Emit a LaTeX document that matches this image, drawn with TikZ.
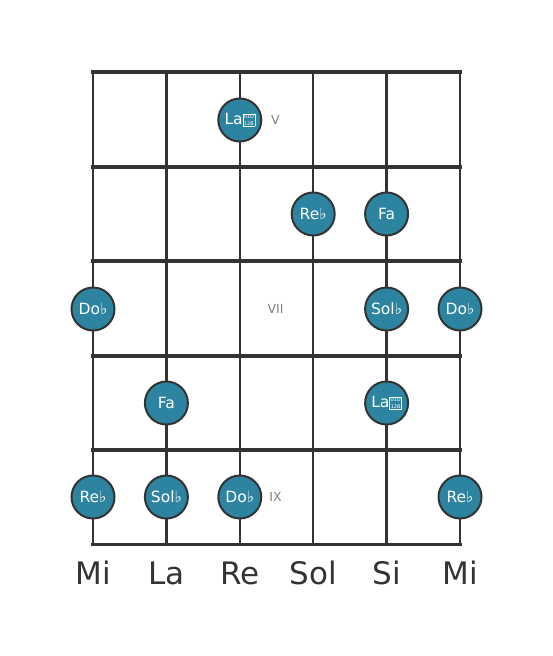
\documentclass[tikz,border=0pt]{standalone}
\usepackage{fontspec}
\setmainfont{DejaVu Sans}
\usepackage{tikz}
\usetikzlibrary{calc}
\definecolor{notefill}{HTML}{2C84A0}
\definecolor{gridcol}{HTML}{333333}
% double flat has no glyph: drawn as a hex box
\newcommand{\dblflat}{{\setlength{\fboxsep}{0.6pt}\setlength{\fboxrule}{0.5pt}\raisebox{-0.5pt}{\fbox{\fontsize{5}{5.5}\selectfont\shortstack{01D\\12B}}}}}
\tikzset{
  note/.style={draw=gridcol,line width=2pt,circle,fill=notefill,minimum size=43pt,inner sep=0pt,text=white,font=\fontsize{15.5}{16}\selectfont},
  fretno/.style={text=gray,font=\fontsize{12.5}{13}\selectfont},
  strname/.style={text=gridcol,font=\fontsize{31}{32}\selectfont}
}
\begin{document}
\begin{tikzpicture}[x=1pt,y=-1pt]
      \useasboundingbox (0,0) rectangle (553,656);
      % frets
      \draw[gridcol,line width=4pt]
        (91,72) -- (462,72)
        (91,166.5) -- (462,166.5)
        (91,261) -- (462,261)
        (91,355.5) -- (462,355.5)
        (91,450) -- (462,450);
      \draw[gridcol,line width=3pt]
        (91,544) -- (462,544);
      % strings
      \draw[gridcol,line width=2.5pt]
        (93,72) -- (93,544)
        (166.4,72) -- (166.4,544)
        (239.8,72) -- (239.8,544)
        (313.2,72) -- (313.2,544)
        (386.6,72) -- (386.6,544)
        (460,72) -- (460,544);
      % notes
      \node[note] (laA) at (239.8,120) {La\dblflat};
      \node[fretno] (fv) at (275.5,120) {V};
      \node[note] (reA) at (313.2,214) {Re♭};
      \node[note] (faA) at (386.6,214) {Fa};
      \node[note] (doA) at (93,309) {Do♭};
      \node[fretno] (fvii) at (275.5,309) {VII};
      \node[note] (solA) at (386.6,309) {Sol♭};
      \node[note] (doB) at (460,309) {Do♭};
      \node[note] (faB) at (166.4,403) {Fa};
      \node[note] (laB) at (386.6,403) {La\dblflat};
      \node[note] (reB) at (93,497) {Re♭};
      \node[note] (solB) at (166.4,497) {Sol♭};
      \node[note] (doC) at (239.8,497) {Do♭};
      \node[fretno] (fix) at (275.5,497) {IX};
      \node[note] (reC) at (460,497) {Re♭};
      % open strings
      \node[strname] (s1) at (93,573) {Mi};
      \node[strname] (s2) at (166.4,573) {La};
      \node[strname] (s3) at (239.8,573) {Re};
      \node[strname] (s4) at (313.2,573) {Sol};
      \node[strname] (s5) at (386.6,573) {Si};
      \node[strname] (s6) at (460,573) {Mi};
    \end{tikzpicture}
\end{document}
